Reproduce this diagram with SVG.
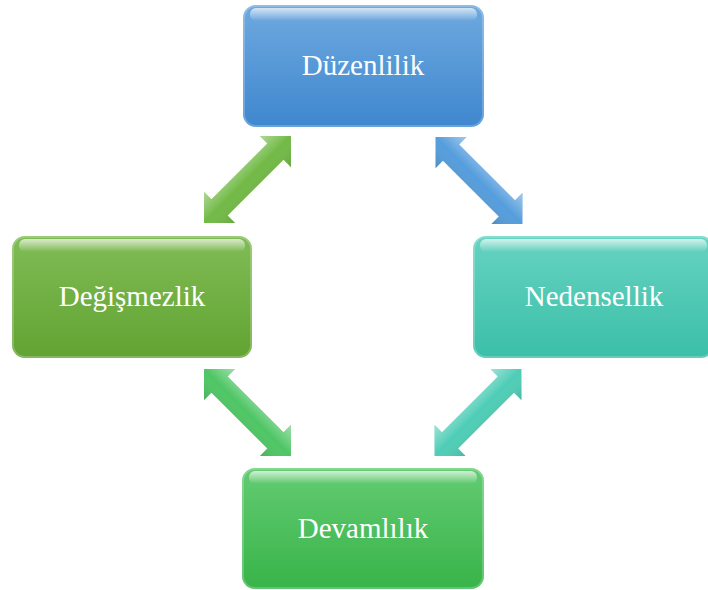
<svg xmlns="http://www.w3.org/2000/svg" width="708" height="590" viewBox="0 0 708 590">
<style>
.lbl{font-family:"Liberation Serif","Times New Roman",serif;font-size:29px;fill:#ffffff;text-anchor:middle}
.hl{fill:url(#gloss)}
.edge{fill:none;stroke:#ffffff;stroke-opacity:0.22;stroke-width:2}
</style>
<defs>
<linearGradient id="gBlue" x1="0" y1="0" x2="0" y2="1"><stop offset="0" stop-color="#6ea9df"/><stop offset="1" stop-color="#3f87cf"/></linearGradient>
<linearGradient id="gLeaf" x1="0" y1="0" x2="0" y2="1"><stop offset="0" stop-color="#80bc55"/><stop offset="1" stop-color="#62a332"/></linearGradient>
<linearGradient id="gTeal" x1="0" y1="0" x2="0" y2="1"><stop offset="0" stop-color="#66d3c1"/><stop offset="1" stop-color="#3bbfa8"/></linearGradient>
<linearGradient id="gGreen" x1="0" y1="0" x2="0" y2="1"><stop offset="0" stop-color="#63cb72"/><stop offset="1" stop-color="#38b449"/></linearGradient>
<linearGradient id="gloss" x1="0" y1="0" x2="0" y2="1"><stop offset="0" stop-color="#ffffff" stop-opacity="0.7"/><stop offset="1" stop-color="#ffffff" stop-opacity="0"/></linearGradient>
<linearGradient id="ashade" x1="0" y1="0" x2="0" y2="1"><stop offset="0" stop-color="#ffffff" stop-opacity="0.45"/><stop offset="0.5" stop-color="#ffffff" stop-opacity="0"/><stop offset="1" stop-color="#000000" stop-opacity="0.12"/></linearGradient>
<path id="dblArrow" d="M-61.5,0 L-39.5,-22 L-39.5,-11.5 L39.5,-11.5 L39.5,-22 L61.5,0 L39.5,22 L39.5,11.5 L-39.5,11.5 L-39.5,22 Z"/>
</defs>
<g id="connectors">
<g transform="translate(247.5,179.5) rotate(-45)"><use href="#dblArrow" fill="#72b947"/><use href="#dblArrow" fill="url(#ashade)"/></g>
<g transform="translate(479,180.5) rotate(45)"><use href="#dblArrow" fill="#559ddc"/><use href="#dblArrow" fill="url(#ashade)"/></g>
<g transform="translate(247.5,412.5) rotate(45)"><use href="#dblArrow" fill="#4fc665"/><use href="#dblArrow" fill="url(#ashade)"/></g>
<g transform="translate(478,412.5) rotate(-45)"><use href="#dblArrow" fill="#4fcdb6"/><use href="#dblArrow" fill="url(#ashade)"/></g>
</g>
<g id="node-duzenlilik">
<rect x="243" y="5" width="241" height="122" rx="13" fill="url(#gBlue)"/>
<rect x="250" y="8" width="227" height="13" rx="6" class="hl"/>
<rect x="244" y="6" width="239" height="120" rx="12" class="edge"/>
<text x="363" y="75" class="lbl">Düzenlilik</text>
</g>
<g id="node-degismezlik">
<rect x="12" y="236" width="240" height="122" rx="13" fill="url(#gLeaf)"/>
<rect x="19" y="239" width="226" height="13" rx="6" class="hl"/>
<rect x="13" y="237" width="238" height="120" rx="12" class="edge"/>
<text x="132" y="306" class="lbl">Değişmezlik</text>
</g>
<g id="node-nedensellik">
<rect x="473" y="236" width="241" height="122" rx="13" fill="url(#gTeal)"/>
<rect x="480" y="239" width="227" height="13" rx="6" class="hl"/>
<rect x="474" y="237" width="239" height="120" rx="12" class="edge"/>
<text x="594" y="306" class="lbl">Nedensellik</text>
</g>
<g id="node-devamlilik">
<rect x="242" y="468" width="242" height="121" rx="13" fill="url(#gGreen)"/>
<rect x="249" y="471" width="228" height="13" rx="6" class="hl"/>
<rect x="243" y="469" width="240" height="119" rx="12" class="edge"/>
<text x="363" y="538" class="lbl">Devamlılık</text>
</g>
</svg>
